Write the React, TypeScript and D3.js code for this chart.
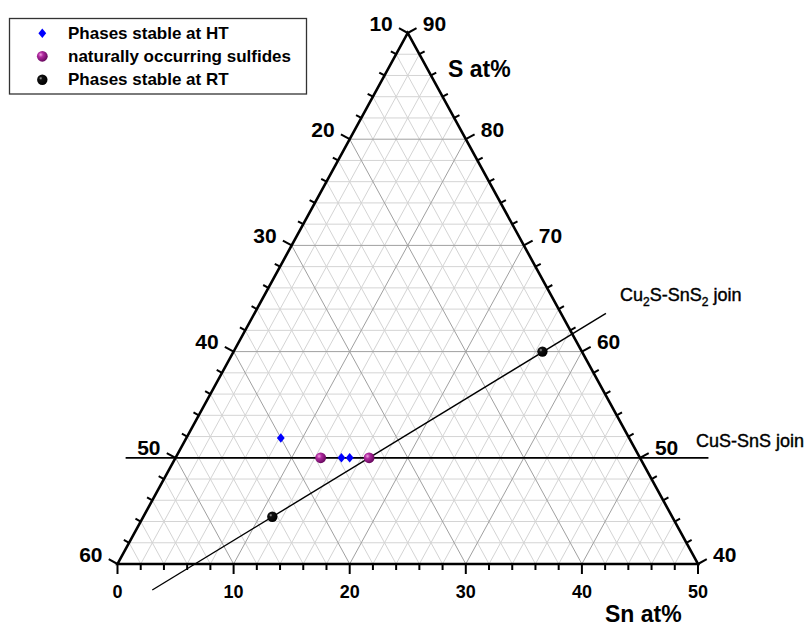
import React from "react";
import * as d3 from "d3";

// Compositions in at% (Cu, Sn, S)
const htCu = [40, 35.71, 35];
const htSn = [8.13, 14.29, 15];
const htS = [51.87, 50, 50];

const natCu = [37.5, 33.33];
const natSn = [12.5, 16.67];
const natS = [50, 50];

const rtCu = [13.4, 44.44];
const rtSn = [26.6, 11.11];
const rtS = [60, 44.45];

// joins (Sn, S) endpoints
const joinCuSSn = [-4.3, 45.9];
const joinCuSS = [50, 50];
const joinCu2SSn = [4.22, 30.27];
const joinCu2SS = [37.55, 63.6];

const bottomTicks = [0, 10, 20, 30, 40, 50];
const leftTicks = [10, 20, 30, 40, 50, 60];
const rightTicks = [40, 50, 60, 70, 80, 90];

const legendItems = ["Phases stable at HT", "naturally occurring sulfides", "Phases stable at RT"];

const FONT = "'Liberation Sans', Arial, Helvetica, sans-serif";

export default function App() {
  const xs = d3.scaleLinear().domain([0, 50]).range([117.5, 698]);
  const ys = d3.scaleLinear().domain([40, 90]).range([564, 33]);
  const P = (sn: number, s: number): [number, number] => [xs(sn + (s - 40) / 2), ys(s)];

  const BL = P(0, 40), BR = P(50, 40), TOP = P(0, 90);
  const norm = (dx: number, dy: number) => {
    const l = Math.hypot(dx, dy);
    return [dx / l, dy / l];
  };
  const nL = norm(-(BL[1] - TOP[1]), -(TOP[0] - BL[0]));
  const nR = norm(BR[1] - TOP[1], -(BR[0] - TOP[0]));

  const steps = d3.range(2, 50, 2);
  const grid: { x1: number; y1: number; x2: number; y2: number; major: boolean }[] = [];
  steps.forEach((k) => {
    const major = k % 10 === 0;
    const s = 40 + k;
    const a = P(0, s), b = P(90 - s, s);
    grid.push({ x1: a[0], y1: a[1], x2: b[0], y2: b[1], major });
    const sn = k;
    const c = P(sn, 40), d = P(sn, 90 - sn);
    grid.push({ x1: c[0], y1: c[1], x2: d[0], y2: d[1], major });
    const cu = 10 + k;
    const e = P(60 - cu, 40), f = P(0, 100 - cu);
    grid.push({ x1: e[0], y1: e[1], x2: f[0], y2: f[1], major });
  });

  const ticks: { x1: number; y1: number; x2: number; y2: number }[] = [];
  d3.range(0, 51, 2).forEach((k) => {
    const len = k % 10 === 0 ? 10 : 6;
    const b = P(k, 40);
    ticks.push({ x1: b[0], y1: b[1], x2: b[0], y2: b[1] + len });
    const l = P(0, 90 - k);
    ticks.push({ x1: l[0], y1: l[1], x2: l[0] + nL[0] * len, y2: l[1] + nL[1] * len });
    const r = P(k, 90 - k);
    ticks.push({ x1: r[0], y1: r[1], x2: r[0] + nR[0] * len, y2: r[1] + nR[1] * len });
  });

  const line = d3.line();

  const diamond = (cx: number, cy: number) =>
    `M${cx},${cy - 4.7}L${cx + 3.9},${cy}L${cx},${cy + 4.7}L${cx - 3.9},${cy}Z`;

  return (
    <svg width={808} height={627} style={{ position: "absolute", left: 0, top: 0, background: "#fff" }} fontFamily={FONT}>
      <defs>
        <radialGradient id="gPurple" cx="35%" cy="35%" r="65%">
          <stop offset="0%" stopColor="#f0a0e0" />
          <stop offset="35%" stopColor="#b02aa0" />
          <stop offset="100%" stopColor="#6a0a60" />
        </radialGradient>
        <radialGradient id="gBlack" cx="35%" cy="35%" r="65%">
          <stop offset="0%" stopColor="#aaaaaa" />
          <stop offset="25%" stopColor="#111111" />
          <stop offset="100%" stopColor="#000000" />
        </radialGradient>
      </defs>
      <rect width={808} height={627} fill="#fff" />
      {grid.filter((g) => !g.major).map((g, i) => (
        <line key={"gm" + i} x1={g.x1} y1={g.y1} x2={g.x2} y2={g.y2} stroke="#d4d4d4" strokeWidth={1} />
      ))}
      {grid.filter((g) => g.major).map((g, i) => (
        <line key={"gM" + i} x1={g.x1} y1={g.y1} x2={g.x2} y2={g.y2} stroke="#a0a0a0" strokeWidth={1} />
      ))}
      {ticks.map((t, i) => (
        <line key={"t" + i} x1={t.x1} y1={t.y1} x2={t.x2} y2={t.y2} stroke="#000" strokeWidth={2} />
      ))}
      <path d={`M${BL[0]},${BL[1]}L${BR[0]},${BR[1]}L${TOP[0]},${TOP[1]}Z`} fill="none" stroke="#000" strokeWidth={2.6} strokeLinejoin="miter" />
      <path d={line(joinCuSSn.map((sn, i) => P(sn, joinCuSS[i])))!} stroke="#000" strokeWidth={1.8} fill="none" />
      <path d={line(joinCu2SSn.map((sn, i) => P(sn, joinCu2SS[i])))!} stroke="#000" strokeWidth={1.4} fill="none" />
      {htSn.map((sn, i) => {
        const [cx, cy] = P(sn, htS[i]);
        return <path key={"ht" + i} d={diamond(cx, cy)} fill="#0000ff" data-cu={htCu[i]} />;
      })}
      {natSn.map((sn, i) => {
        const [cx, cy] = P(sn, natS[i]);
        return <circle key={"nat" + i} cx={cx} cy={cy} r={5.4} fill="url(#gPurple)" data-cu={natCu[i]} />;
      })}
      {rtSn.map((sn, i) => {
        const [cx, cy] = P(sn, rtS[i]);
        return <circle key={"rt" + i} cx={cx} cy={cy} r={5.2} fill="url(#gBlack)" data-cu={rtCu[i]} />;
      })}
      {bottomTicks.map((v) => {
        const [x, y] = P(v, 40);
        return (
          <text key={"bl" + v} x={x} y={y + 34} textAnchor="middle" fontSize={18} fontWeight="bold">{v}</text>
        );
      })}
      {leftTicks.map((v) => {
        const [x, y] = P(0, 100 - v);
        return (
          <text key={"ll" + v} x={x - 15} y={y - 2.5} textAnchor="end" fontSize={21} fontWeight="bold">{v}</text>
        );
      })}
      {rightTicks.map((v) => {
        const [x, y] = P(90 - v, v);
        return (
          <text key={"rl" + v} x={x + 15} y={y - 2.5} textAnchor="start" fontSize={21} fontWeight="bold">{v}</text>
        );
      })}
      <text x={448} y={77} fontSize={23} fontWeight="bold">S at%</text>
      <text x={605} y={622} fontSize={23} fontWeight="bold">Sn at%</text>
      <text x={620} y={300.5} fontSize={18} stroke="#000" strokeWidth={0.4}>
        Cu<tspan fontSize={12} dy={5}>2</tspan><tspan dy={-5}>S-SnS</tspan><tspan fontSize={12} dy={5}>2</tspan><tspan dy={-5}> join</tspan>
      </text>
      <text x={696} y={447.3} fontSize={18} stroke="#000" strokeWidth={0.4}>CuS-SnS join</text>
      <rect x={9.5} y={18.5} width={297} height={75.5} fill="#fff" stroke="#333" strokeWidth={1.3} />
      <path d={diamond(42.3, 33.3)} fill="#0000ff" />
      <circle cx={42.3} cy={56.3} r={5.4} fill="url(#gPurple)" />
      <circle cx={42.3} cy={79.8} r={5.2} fill="url(#gBlack)" />
      {legendItems.map((t, i) => (
        <text key={"lg" + i} x={68} y={38.5 + i * 23.3} fontSize={17} fontWeight="bold">{t}</text>
      ))}
    </svg>
  );
}
